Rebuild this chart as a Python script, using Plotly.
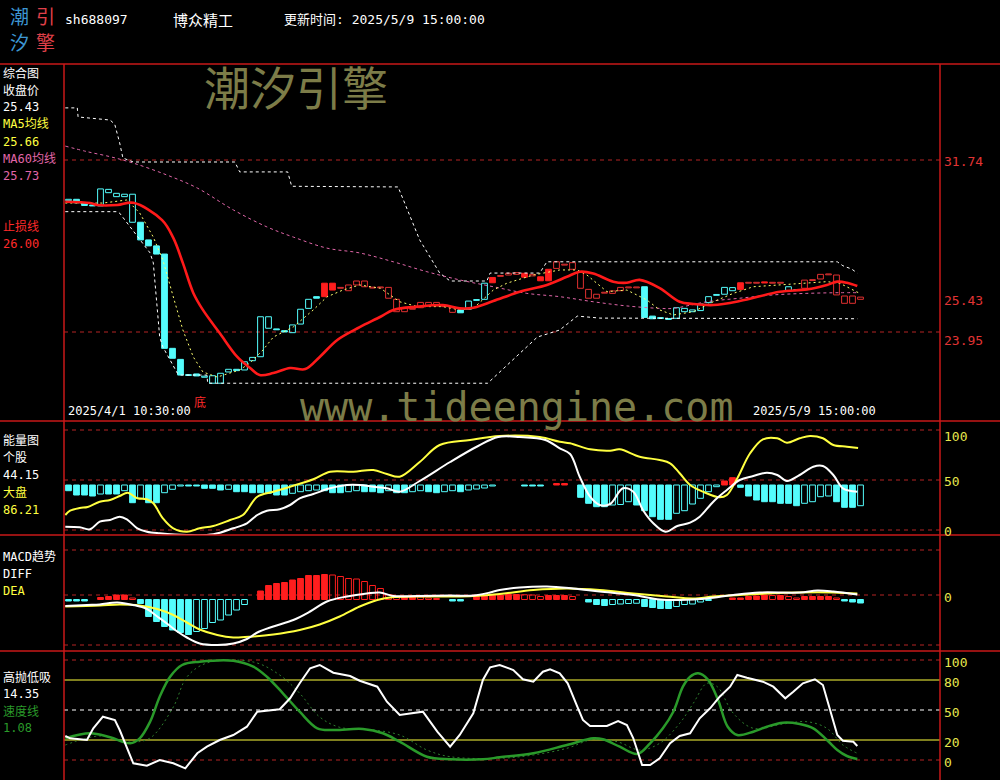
import plotly.graph_objects as go

# ------------------------------------------------------------------ data
logo_text = ["潮", "引", "汐", "擎"]
stock_code = "sh688097"
stock_name = "博众精工"
update_text = "更新时间: 2025/5/9 15:00:00"
first_bar_label = "2025/4/1 10:30:00"
last_bar_label = "2025/5/9 15:00:00"
watermark_cn = "潮汐引擎"
watermark_url = "www.tideengine.com"

# hourly bars (open / close), one per bar
bar_open = [29.90, 29.96, 29.78, 29.70, 29.66, 30.26, 30.08, 30.08, 28.92, 28.92,
            28.12, 27.85, 27.48, 23.21, 22.71, 22.02, 22.05, 21.90, 21.63, 21.63,
            22.14, 22.26, 22.23, 22.65, 22.83, 24.12, 24.09, 24.01, 23.92, 24.31,
            25.02, 25.55, 26.16, 26.16, 25.93, 25.82, 26.08, 26.00, 25.94, 25.95,
            25.48, 24.87, 24.87, 24.98, 25.05, 25.13, 25.13, 25.10, 24.84, 24.95,
            24.98, 25.38, 25.43, 26.42, 26.47, 26.53, 26.56, 26.61, 26.49, 26.45,
            26.79, 26.83, 26.98, 26.79, 25.93, 25.48, 25.48, 25.71, 25.70, 25.82,
            25.95, 25.95, 26.00, 24.67, 24.60, 24.56, 24.57, 24.87, 24.87, 24.92,
            25.28, 25.61, 25.66, 25.82, 26.18, 26.16, 26.16, 26.22, 26.16, 26.16,
            25.82, 25.83, 25.93, 26.28, 26.35, 26.54, 25.63, 25.25, 25.25, 25.43]
bar_close = [29.96, 29.80, 29.68, 29.66, 30.43, 30.41, 30.23, 30.19, 30.19, 28.12,
             27.85, 27.48, 23.21, 22.76, 22.00, 21.98, 21.96, 21.95, 21.97, 22.08,
             22.26, 22.20, 22.60, 22.80, 24.64, 24.64, 24.05, 23.95, 24.27, 24.98,
             25.43, 25.48, 25.55, 25.85, 25.97, 26.08, 26.26, 26.26, 25.98, 25.99,
             25.97, 25.43, 25.05, 25.02, 25.29, 25.29, 25.29, 25.14, 25.05, 24.82,
             25.35, 25.42, 26.16, 26.18, 26.51, 26.61, 26.64, 26.43, 26.56, 26.27,
             26.27, 27.13, 27.02, 27.09, 26.68, 25.88, 25.66, 25.75, 25.81, 25.97,
             25.99, 25.99, 24.61, 24.55, 24.56, 24.52, 25.05, 25.02, 24.95, 25.22,
             25.55, 25.65, 25.97, 25.96, 25.88, 26.20, 26.20, 26.17, 26.20, 26.20,
             26.00, 25.87, 26.30, 26.32, 26.56, 26.58, 26.53, 25.58, 25.58, 25.53]
# trend state per bar: R = strong (red), C = weak (cyan)
bar_trend = ("CCCCCCCCCC" "CCCCCCCCCC" "CCCCCCCCCC" "CCRRRRRRRR" "RRRRRRRRRC"
             "CCCRRRRRRR" "RRRRRRRRRR" "RRCCCCCCCC" "CCCCRRRRRR" "CCRRRRRRRR")

# line series: (bar position, value)
stop_line = [(-0.4, 29.85), (2.7, 29.79), (3.6, 29.70), (6.1, 29.70), (8.1, 29.80), (11.7, 29.02),
             (13.1, 28.21), (14.3, 27.07), (15.6, 25.72), (16.8, 24.95), (18.9, 23.90), (21.1, 22.82),
             (22.7, 22.32), (23.9, 22.00), (25.6, 22.09), (27.7, 22.32), (29.6, 22.27), (31.4, 22.82),
             (33.6, 23.59), (36.4, 24.17), (39.0, 24.64), (40.6, 24.95), (43.6, 25.10), (46.8, 25.17),
             (48.9, 25.02), (50.6, 25.05), (53.1, 25.35), (56.4, 25.77), (59.8, 26.08), (62.3, 26.45),
             (63.9, 26.68), (65.6, 26.60), (68.1, 26.23), (69.8, 26.18), (71.4, 26.31), (73.9, 25.94),
             (76.4, 25.32), (78.1, 25.22), (80.6, 25.17), (83.9, 25.35), (88.9, 25.77), (92.3, 25.88),
             (94.8, 26.08), (96.1, 26.23), (97.3, 26.18), (98.6, 26.03)]
upper_band = [(-0.4, 34.10), (1.1, 34.10), (1.2, 33.69), (5.2, 33.55), (5.6, 33.42), (5.8, 33.33),
              (6.4, 32.51), (6.8, 31.83), (8.1, 31.65), (20.8, 31.65), (21.4, 31.20), (27.4, 31.20),
              (27.9, 30.55), (41.2, 30.52), (43.9, 28.12), (46.4, 26.62), (47.7, 26.26), (52.3, 26.26),
              (52.7, 26.62), (58.9, 26.62), (59.8, 27.13), (96.1, 27.13), (96.8, 26.95), (97.9, 26.80),
              (98.6, 26.62)]
lower_band = [(-0.4, 29.40), (6.1, 29.40), (6.4, 29.33), (7.7, 28.71), (10.2, 27.53), (10.6, 27.08),
              (11.4, 23.72), (11.8, 23.27), (12.7, 22.68), (13.6, 22.09), (13.9, 22.00), (17.3, 22.00),
              (17.4, 21.63), (52.4, 21.63), (58.6, 23.72), (61.4, 24.04), (63.6, 24.67), (66.4, 24.58),
              (98.6, 24.55)]
ma60 = [(-0.4, 32.37), (2.3, 32.12), (5.2, 31.89), (8.1, 31.60), (12.3, 31.06), (16.1, 30.47),
        (20.6, 29.48), (24.8, 28.71), (28.1, 28.25), (32.3, 27.75), (36.4, 27.53), (40.6, 27.13),
        (44.8, 26.68), (48.9, 26.31), (53.1, 26.00), (57.3, 25.70), (61.4, 25.55), (65.6, 25.32),
        (69.8, 25.13), (73.9, 25.02), (75.6, 25.02), (79.8, 25.32), (83.9, 25.48), (88.1, 25.63),
        (92.3, 25.70), (96.4, 25.73), (98.6, 25.73)]
ma5 = [(-0.4, 29.79), (4.3, 29.79), (7.3, 29.93), (8.9, 29.34), (10.6, 28.25), (11.8, 27.21),
       (13.1, 25.54), (14.3, 24.04), (15.6, 22.82), (16.8, 22.14), (18.6, 21.91), (21.4, 22.23),
       (22.7, 22.55), (24.3, 23.13), (25.6, 23.72), (28.1, 24.18), (30.6, 24.95), (32.3, 25.54),
       (34.3, 25.85), (36.4, 26.08), (39.0, 25.93), (41.4, 25.32), (43.6, 25.10), (46.8, 25.10),
       (48.9, 24.95), (50.6, 25.02), (53.1, 25.85), (54.8, 26.16), (58.1, 26.53), (61.4, 26.76),
       (63.6, 26.76), (64.8, 26.53), (67.3, 25.78), (69.8, 25.85), (72.3, 25.40), (73.9, 24.95),
       (75.6, 24.72), (78.1, 24.87), (80.6, 25.32), (83.1, 25.70), (85.6, 26.00), (88.9, 26.08),
       (92.3, 26.16), (94.8, 26.23), (96.4, 26.16), (98.1, 25.85), (98.9, 25.70)]
bottom_signal = (16.4, 20.78, "底")

# energy panel
energy_hist = [39.3, 35, 35, 34, 36, 36, 36, 39.3, 27.3, 31.7, 27.3, 27.3, 37.3, 40.7, 44, 44, 44,
               41.7, 41.7, 40, 40.7, 38.3, 38.3, 37.3, 37.3, 36.7, 35, 35, 36.7, 38.3, 39.3, 40, 39.3,
               37.3, 37.3, 38.3, 39.3, 38.3, 38.3, 37.3, 39.3, 37.3,
               37.3, 38.3, 39.3, 38.3, 37.3, 38.3, 39.3, 38.3, 40, 41, 42, 44, 45, 45, 45, 44, 44, 44,
               45, 46.5,
               46.5, 45, 32.7, 26.7, 23.3, 23.3, 25, 25.5, 28.3, 25, 19.3, 13.3, 10.7, 10.7, 16.7, 19.3,
               26, 31.7, 38.3, 43.3, 49, 52.3, 42.7, 34, 30, 28.3, 28.3, 26.7, 26.7, 24.3, 26.7, 28.3,
               33.3, 34, 28.3, 22.7, 22.7, 24.3]
energy_base = 45
energy_stock = [(-0.4, 3.3), (1.4, 2.7), (2.7, 0.7), (3.9, 8.3), (5.2, 10), (6.4, 13.3), (7.3, 10.7),
                (8.6, 1.7), (9.8, -1.7), (11.4, -3.3), (14.8, -5), (18.1, -4.3), (20.6, 1.7), (22.3, 6.7),
                (23.6, 15), (24.8, 19.3), (26.4, 20.7), (27.7, 25), (28.9, 31.7), (30.6, 36), (32.7, 41.7),
                (34.8, 45), (36.4, 45), (38.1, 43.3), (39.8, 41.7), (41.4, 38.3), (43.9, 49), (47.7, 68),
                (51.2, 84), (53.7, 93), (56.4, 93), (59.6, 90), (61.4, 81.7), (62.7, 76), (63.9, 53.3),
                (65.2, 33.3), (66.4, 25), (67.7, 26), (69.3, 41.7), (70.6, 38.3), (71.8, 20), (73.1, 6.7),
                (74.6, -1.7), (76.1, 4), (77.7, 7.3), (78.9, 13.3), (80.6, 28.3), (82.3, 40), (83.9, 50),
                (85.6, 54), (87.3, 57.3), (88.6, 55), (89.8, 49), (91.4, 55), (93.1, 63.3), (94.3, 64),
                (95.6, 55), (96.8, 41.7), (98.6, 38.3)]
energy_market = [(-0.4, 15), (0.2, 19.3), (1.4, 22), (2.4, 23), (3.9, 28.3), (5.2, 30), (6.4, 34),
                 (7.4, 37.3), (8.6, 31.7), (9.8, 30.7), (10.6, 26.7), (11.8, 11.7), (13.1, 1.7),
                 (14.8, -1.7), (16.4, 1.7), (18.1, 4), (20.2, 10), (21.8, 15), (23.6, 33.3), (25.6, 38.3),
                 (27.7, 43.3), (30.6, 50.7), (32.7, 58.3), (35.6, 58.3), (38.1, 60), (39.8, 56),
                 (41.4, 53.3), (43.9, 68), (46.4, 85), (50.2, 90), (53.9, 94), (58.9, 93), (61.4, 88.3),
                 (62.7, 86.7), (65.2, 80.7), (67.7, 79.3), (68.9, 80.7), (71.4, 73.3), (73.9, 70),
                 (75.2, 66.7), (76.4, 56.7), (77.7, 45), (79.3, 38.3), (81.4, 32.7), (82.3, 35),
                 (83.6, 51.7), (85.2, 76.7), (86.8, 90.7), (88.6, 91.7), (89.8, 87.3), (91.4, 91.7),
                 (92.7, 94), (94.3, 91.7), (95.6, 85), (97.3, 83.3), (98.7, 82)]

# MACD panel
macd_hist = [-0.03, -0.03, -0.03, 0.0, 0.04, 0.06, 0.09, 0.09, 0.03, -0.08,
             -0.34, -0.44, -0.54, -0.61, -0.66, -0.70, -0.64, -0.58, -0.46, -0.41,
             -0.31, -0.21, -0.10, 0.0, 0.17, 0.28, 0.32, 0.34, 0.39, 0.42,
             0.48, 0.48, 0.50, 0.49, 0.46, 0.42, 0.41, 0.36, 0.28, 0.22,
             0.10, 0.05, 0.06, 0.06, 0.05, 0.03, 0.02, 0.0, -0.03, -0.03,
             0.0, 0.06, 0.08, 0.09, 0.09, 0.10, 0.10, 0.095, 0.09, 0.06,
             0.08, 0.08, 0.08, 0.06, 0.0, -0.05, -0.10, -0.12, -0.10, -0.09,
             -0.08, -0.075, -0.14, -0.16, -0.18, -0.18, -0.14, -0.10, -0.09, -0.05,
             -0.02, 0.0, 0.0, 0.03, 0.03, 0.06, 0.07, 0.09, 0.08, 0.08,
             0.06, 0.03, 0.06, 0.06, 0.06, 0.06, 0.03, -0.03, -0.05, -0.07]
macd_diff = [(-0.4, -0.13), (2.3, -0.11), (3.9, -0.10), (6.1, -0.06), (8.1, -0.11), (9.8, -0.19),
             (11.1, -0.34), (12.3, -0.48), (13.6, -0.64), (14.8, -0.76), (16.4, -0.88), (18.6, -0.91),
             (20.6, -0.88), (22.3, -0.79), (23.6, -0.66), (25.6, -0.54), (28.1, -0.41), (30.2, -0.24),
             (32.3, -0.04), (34.8, 0.06), (37.3, 0.12), (38.9, 0.14), (40.6, 0.07), (43.6, 0.07),
             (47.7, 0.08), (50.6, 0.08), (52.7, 0.14), (53.9, 0.19), (56.4, 0.24), (59.8, 0.26),
             (63.1, 0.22), (66.4, 0.16), (70.6, 0.09), (73.9, 0.0), (76.4, -0.01), (79.8, 0.02),
             (83.1, 0.09), (86.4, 0.14), (91.4, 0.14), (93.6, 0.18), (95.6, 0.16), (98.6, 0.10)]
macd_dea = [(-0.4, -0.14), (3.9, -0.12), (6.4, -0.10), (8.9, -0.12), (11.1, -0.19), (13.1, -0.31),
            (14.8, -0.46), (16.4, -0.60), (18.6, -0.71), (20.6, -0.76), (23.1, -0.74), (25.6, -0.70),
            (28.9, -0.61), (31.4, -0.50), (33.9, -0.34), (36.4, -0.14), (38.6, -0.01), (40.2, 0.04),
            (43.9, 0.06), (47.7, 0.06), (50.6, 0.07), (53.9, 0.11), (58.1, 0.19), (62.3, 0.22),
            (66.4, 0.19), (70.6, 0.12), (74.8, 0.06), (78.1, 0.02), (80.6, 0.06), (83.9, 0.09),
            (87.3, 0.12), (91.4, 0.14), (95.6, 0.14), (98.6, 0.12)]

# high-sell / low-buy panel
swing_line = [(-0.4, 24), (0.2, 21.7), (2.3, 20), (3.1, 31.7), (4.3, 43.3), (5.8, 40), (6.4, 30),
              (7.3, 13.3), (8.1, -3.3), (9.8, -5.7), (11.4, 0), (13.1, -3.3), (14.6, -8.3), (16.1, 6.7),
              (17.3, 13.3), (18.9, 20), (20.6, 25), (22.3, 33.3), (23.6, 48.3), (26.4, 50.7),
              (27.7, 61.7), (28.9, 76.7), (30.2, 91.7), (31.4, 95), (33.1, 87.3), (35.2, 84),
              (36.4, 79.3), (38.6, 73.3), (39.8, 58.3), (41.4, 45), (43.1, 47.3), (44.3, 48.3),
              (46.1, 28.3), (47.7, 13.3), (48.9, 25), (50.6, 46.7), (51.8, 80), (52.7, 92.7), (53.9, 95),
              (55.6, 90), (56.8, 80.7), (58.1, 78.3), (59.3, 88.3), (60.2, 90.7), (61.4, 86.7),
              (62.4, 76.7), (63.6, 53.3), (64.3, 40), (65.2, 34), (67.3, 34), (68.7, 39), (69.8, 35),
              (70.6, 21.7), (71.2, 6.7), (71.7, -5), (72.7, -5), (73.9, 1.7), (75.2, 16.7), (76.4, 24),
              (77.7, 26.7), (78.9, 41.7), (80.2, 51.7), (81.4, 63.3), (82.7, 73.3), (83.6, 85),
              (84.8, 82.3), (86.8, 78.3), (88.1, 73.3), (89.6, 61.7), (90.6, 68.3), (91.8, 76.7),
              (93.3, 80.7), (94.3, 75), (95.2, 50), (96.1, 25), (96.8, 19.3), (98.1, 18.3), (98.6, 14)]
speed_line = [(-0.4, 21.7), (2.7, 26.7), (5.2, 22.7), (7.7, 16.7), (8.9, 21.7), (10.2, 38.3),
              (11.4, 63.3), (12.7, 83.3), (14.2, 95), (16.4, 98.3), (20.6, 99.3), (23.1, 93.3),
              (24.8, 83.3), (26.8, 66.7), (28.9, 48.3), (31.1, 31.7), (33.1, 30), (36.8, 31),
              (39.3, 26.7), (41.4, 18.3), (44.8, 3.3), (47.7, 0.7), (51.8, 0.7), (53.9, 2.7),
              (58.1, 6.7), (62.3, 15), (65.6, 21.7), (66.8, 20.7), (68.9, 13.3), (71.1, 6), (72.7, 16.7),
              (74.3, 31.7), (75.6, 48.3), (76.8, 73.3), (77.7, 83.3), (78.7, 86.7), (79.9, 80.7),
              (81.2, 60), (82.4, 33.3), (83.6, 25), (85.6, 28.3), (87.3, 33.3), (89.3, 37.3), (91.4, 36),
              (93.1, 31.7), (94.8, 20), (96.1, 10), (97.3, 4), (98.6, 1)]
speed_signal = [(-0.4, 15), (3.9, 24), (7.7, 18), (10.2, 22), (13.1, 53), (14.8, 83), (17.3, 97),
                (23.1, 98), (26.4, 85), (28.9, 66.7), (31.4, 43), (33.9, 32.7), (37.3, 30.7), (41.4, 25),
                (44.8, 10), (47.7, 3.3), (53.9, 1.7), (58.1, 5), (62.3, 11.7), (65.6, 20.7), (68.6, 18.3),
                (71.4, 10), (73.9, 16.7), (76.4, 36.7), (78.1, 56.7), (79.8, 76.7), (81.1, 73.3),
                (83.1, 46.7), (85.6, 31.7), (89.3, 36), (92.3, 38.3), (94.8, 31.7), (96.8, 15), (98.6, 6.7)]

# axis levels and legend readouts
price_levels = [31.74, 23.95]
price_labels = [31.74, 25.43, 23.95]
energy_levels = [100, 50, 0]
macd_levels = [0.99, 0.09, -0.91]
macd_zero = 0.09
swing_red_levels = [100, 0]
swing_yellow_levels = [80, 20]
swing_mid_level = 50
swing_labels = [100, 80, 50, 20, 0]
legend_close, legend_ma5, legend_ma60, legend_stop = "25.43", "25.66", "25.73", "26.00"
legend_stock, legend_market = "44.15", "86.21"
legend_swing, legend_speed = "14.35", "1.08"

# ------------------------------------------------------------------ styling
W, H = 1000, 780
BORDER = "#C81818"
GRID = "#B42424"
CYAN = "#54FCFC"
RED_FILL = "#FF1E1E"
RED_LINE = "#E03030"
WHITE = "#FFFFFF"
YELLOW = "#FFFF40"
PINK = "#E066A8"
GREEN = "#2A9A2A"
AXIS_RED = "#E03434"
AXIS_YEL = "#E6E64C"
OLIVE = "#7C7C48"
FONT = "DejaVu Sans Mono, Noto Sans CJK SC"
CJK = "Noto Sans CJK SC"
CLEAR = "rgba(0,0,0,0)"


def px(x):
    return x / W


def py(y):
    return 1 - y / H


fig = go.Figure()
n = len(bar_open)
idx = list(range(n))


def add_line(pairs, yaxis, color, width, dash=None, shape="linear"):
    fig.add_trace(go.Scatter(
        x=[p[0] for p in pairs], y=[p[1] for p in pairs], mode="lines",
        line=dict(color=color, width=width, dash=dash, shape=shape),
        xaxis="x", yaxis=yaxis, hoverinfo="skip"))


def add_hist(values, base, yaxis, min_h):
    xs, hs, bs, fills, lines = [], [], [], [], []
    prev = base
    for i, v in enumerate(values):
        d = v - base
        if abs(d) < min_h:
            prev = v
            continue
        col = RED_FILL if d > 0 else CYAN
        same_side = (prev - base) * d > 0
        grow = (not same_side) or abs(d) >= abs(prev - base) - 1e-9
        xs.append(i)
        hs.append(abs(d))
        bs.append(min(v, base))
        fills.append(col if grow else CLEAR)
        lines.append(col)
        prev = v
    fig.add_trace(go.Bar(x=xs, y=hs, base=bs, width=0.72,
                         marker=dict(color=fills, line=dict(color=lines, width=1)),
                         xaxis="x", yaxis=yaxis, hoverinfo="skip"))


# ---- main panel
add_line(upper_band, "y", WHITE, 1, dash="3px,3px")
add_line(lower_band, "y", WHITE, 1, dash="3px,3px")
add_line(ma60, "y", PINK, 1, dash="3px,3px", shape="spline")

c_base = [min(o, c) for o, c in zip(bar_open, bar_close)]
c_h = [max(abs(c - o), 0.04) for o, c in zip(bar_open, bar_close)]
c_fill, c_line = [], []
for o, c, t in zip(bar_open, bar_close, bar_trend):
    col = CYAN if t == "C" else RED_FILL
    if c < o:
        c_fill.append(col)
        c_line.append(col)
    else:
        c_fill.append(CLEAR)
        c_line.append(CYAN if t == "C" else RED_LINE)
fig.add_trace(go.Bar(x=idx, y=c_h, base=c_base, width=0.72,
                     marker=dict(color=c_fill, line=dict(color=c_line, width=1)),
                     xaxis="x", yaxis="y", hoverinfo="skip"))
add_line(ma5, "y", "#FFFF70", 1, dash="2px,3px")
add_line(stop_line, "y", "#FF1A1A", 2.6, shape="spline")

# ---- energy panel
add_hist(energy_hist, energy_base, "y2", 0.5)
add_line(energy_market, "y2", YELLOW, 2, shape="spline")
add_line(energy_stock, "y2", WHITE, 2, shape="spline")

# ---- macd panel
add_hist(macd_hist, 0.0, "y3", 0.005)
add_line(macd_dea, "y3", YELLOW, 2, shape="spline")
add_line(macd_diff, "y3", WHITE, 2, shape="spline")

# ---- swing panel
add_line(speed_signal, "y4", "#2E7D2E", 1, dash="2px,3px", shape="spline")
add_line(speed_line, "y4", GREEN, 2.5, shape="spline")
add_line(swing_line, "y4", WHITE, 2)

# ------------------------------------------------------------------ shapes
shapes = []
for yb in [64, 421, 535, 651]:
    shapes.append(dict(type="line", xref="paper", yref="paper", x0=0, x1=1, y0=py(yb), y1=py(yb),
                       line=dict(color=BORDER, width=1.5), layer="above"))
for xb in [64, 940]:
    shapes.append(dict(type="line", xref="paper", yref="paper", x0=px(xb), x1=px(xb), y0=py(64), y1=0,
                       line=dict(color=BORDER, width=1.5), layer="above"))


def hline(yref, v, color, dash=None, width=1):
    shapes.append(dict(type="line", xref="paper", yref=yref, x0=px(64), x1=px(940), y0=v, y1=v,
                       line=dict(color=color, width=width, dash=dash), layer="below"))


for v in price_levels:
    hline("y", v, GRID, "4px,4px")
for v in energy_levels:
    hline("y2", v, GRID, "4px,4px")
for v in macd_levels:
    hline("y3", v, GRID, "4px,4px")
for v in swing_red_levels:
    hline("y4", v, GRID, "4px,4px")
for v in swing_yellow_levels:
    hline("y4", v, "#FFFF3C")
hline("y4", swing_mid_level, WHITE, "4px,4px")

# ------------------------------------------------------------------ annotations
anns = []


def text(t, x, y, color, size, family=FONT, xanchor="left", xref="paper", yref="paper", yshift=0):
    anns.append(dict(text=t, x=x, y=y, xref=xref, yref=yref, xanchor=xanchor, yanchor="middle",
                     showarrow=False, yshift=yshift, borderpad=0,
                     font=dict(color=color, size=size, family=family)))


# header / logo
logo_pos = [(19, 15.5, "#3C96D2"), (45, 15.5, "#E0404A"), (19, 41.5, "#3C96D2"), (45, 41.5, "#E0404A")]
for ch, (lx, ly, lc) in zip(logo_text, logo_pos):
    text(ch, px(lx), py(ly), lc, 19, family=CJK, xanchor="center")
text(stock_code, px(64), py(19), WHITE, 13)
text(stock_name, px(172), py(19), WHITE, 15, family=CJK)
text(update_text, px(283), py(19), WHITE, 13)

# watermarks
text(watermark_cn, px(296), py(85), OLIVE, 46, family=CJK, xanchor="center")
text(watermark_url, px(516), py(407), OLIVE, 40, family="DejaVu Sans Mono", xanchor="center")

# left legends
left_labels = [
    ("综合图", 73, WHITE), ("收盘价", 90, WHITE), (legend_close, 107.5, WHITE),
    ("MA5均线", 124.5, YELLOW), (legend_ma5, 141.5, YELLOW),
    ("MA60均线", 159, PINK), (legend_ma60, 176, PINK),
    ("止损线", 227, "#FF2A2A"), (legend_stop, 243.5, "#FF2A2A"),
    ("能量图", 441, WHITE), ("个股", 458, WHITE), (legend_stock, 475, WHITE),
    ("大盘", 492, YELLOW), (legend_market, 510, YELLOW),
    ("MACD趋势", 557, WHITE), ("DIFF", 573.5, WHITE), ("DEA", 591, YELLOW),
    ("高抛低吸", 677, WHITE), (legend_swing, 694, WHITE),
    ("速度线", 711, GREEN), (legend_speed, 728, GREEN),
]
for t, yy, col in left_labels:
    text(t, px(2), py(yy), col, 12)

# right axis labels
for v in price_labels:
    shift = -8 if v == min(price_labels) else -1
    text(f"{v:.2f}", px(943), v, AXIS_RED, 13, yref="y", yshift=shift)
for v in energy_levels:
    text(str(v), px(943), v, AXIS_YEL, 13, yref="y2", yshift=-6 if v == 100 else -1)
text("0", px(943), macd_zero, AXIS_YEL, 13, yref="y3", yshift=-2)
for v in swing_labels:
    text(str(v), px(943), v, AXIS_YEL, 13, yref="y4", yshift=-2)

# date labels and signal
text(first_bar_label, px(67), py(411), WHITE, 12)
text(last_bar_label, px(752), py(411), WHITE, 12)
text(bottom_signal[2], bottom_signal[0], bottom_signal[1], "#FF2A2A", 12, family=CJK,
     xanchor="center", xref="x", yref="y")

# ------------------------------------------------------------------ layout
x_range = [-0.5625, -0.5625 + 876 / 8]
ax_common = dict(visible=False, showgrid=False, zeroline=False, fixedrange=True)
fig.update_layout(
    width=W, height=H, margin=dict(l=0, r=0, t=0, b=0),
    paper_bgcolor="black", plot_bgcolor="black", showlegend=False,
    barmode="overlay", bargap=0,
    xaxis=dict(domain=[px(64), px(940)], range=x_range, anchor="y", **ax_common),
    yaxis=dict(domain=[py(421), py(64)], range=[19.919, 36.088], anchor="x", **ax_common),
    yaxis2=dict(domain=[py(535), py(421)], range=[-5, 109], anchor="x", **ax_common),
    yaxis3=dict(domain=[py(651), py(535)], range=[-1.03, 1.29], anchor="x", **ax_common),
    yaxis4=dict(domain=[0, py(651)], range=[-20, 109], anchor="x", **ax_common),
    shapes=shapes, annotations=anns,
)

fig.write_html("out.html", include_plotlyjs=True,
               config={"displayModeBar": False, "staticPlot": True},
               post_script="document.body.style.margin='0';document.body.style.background='#000';"
                           "document.body.style.overflow='hidden';")
